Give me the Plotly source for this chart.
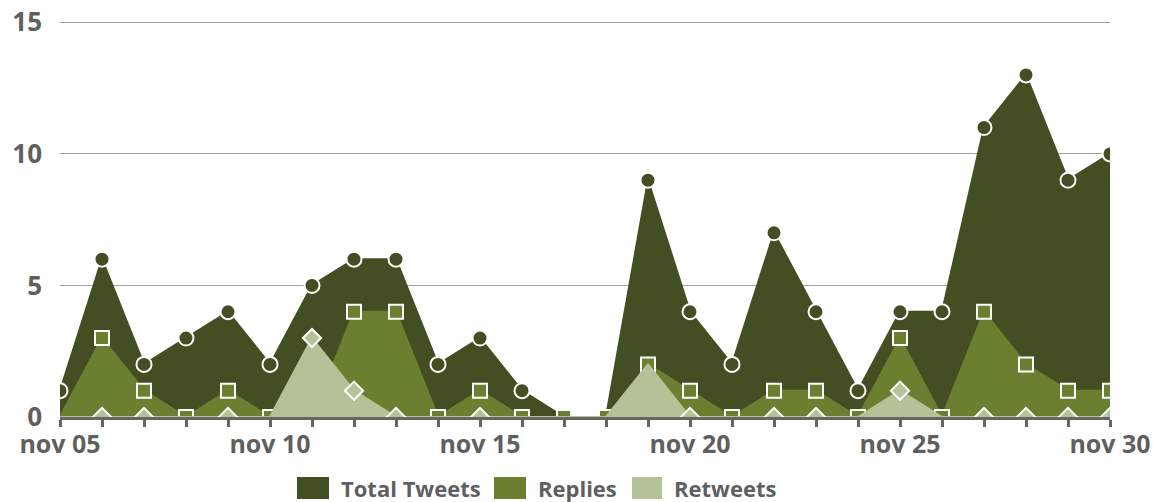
import plotly.graph_objects as go

# ---- data ----
days = ["2014-11-05", "2014-11-06", "2014-11-07", "2014-11-08", "2014-11-09",
        "2014-11-10", "2014-11-11", "2014-11-12", "2014-11-13", "2014-11-14",
        "2014-11-15", "2014-11-16", "2014-11-17", "2014-11-18", "2014-11-19",
        "2014-11-20", "2014-11-21", "2014-11-22", "2014-11-23", "2014-11-24",
        "2014-11-25", "2014-11-26", "2014-11-27", "2014-11-28", "2014-11-29",
        "2014-11-30"]
total_tweets = [1, 6, 2, 3, 4, 2, 5, 6, 6, 2, 3, 1, 0, 0, 9, 4, 2, 7, 4, 1, 4, 4, 11, 13, 9, 10]
replies = [0, 3, 1, 0, 1, 0, 0, 4, 4, 0, 1, 0, 0, 0, 2, 1, 0, 1, 1, 0, 3, 0, 4, 2, 1, 1]
retweets = [0, 0, 0, 0, 0, 0, 3, 1, 0, 0, 0, 0, 0, 0, 2, 0, 0, 0, 0, 0, 1, 0, 0, 0, 0, 0]
series_names = ["Total Tweets", "Replies", "Retweets"]
x_tick_labels = ["nov 05", "", "", "", "", "nov 10", "", "", "", "", "nov 15", "", "", "", "",
                 "nov 20", "", "", "", "", "nov 25", "", "", "", "", "nov 30"]
y_tick_vals = [0, 5, 10, 15]

# ---- style ----
C_TOTAL = "#434f23"
C_REPL = "#6a8030"
C_RT = "#b5c197"
TXT = "#5f5f5f"
FONT = "Open Sans"

# markers hidden where covered by another series' marker in the reference
op_total = [0 if v == 0 else 1 for v in total_tweets]
op_repl = [0 if i == 0 else 1 for i in range(len(replies))]
op_rt = [0 if r == p else 1 for r, p in zip(retweets, replies)]

fig = go.Figure()
specs = [
    (total_tweets, series_names[0], C_TOTAL, "circle", 15, op_total),
    (replies, series_names[1], C_REPL, "square", 14, op_repl),
    (retweets, series_names[2], C_RT, "diamond", 14, op_rt),
]
for vals, name, col, sym, sz, op in specs:
    fig.add_trace(go.Scatter(
        x=days, y=vals, name=name, mode="lines+markers",
        fill="tozeroy", fillcolor=col,
        line=dict(color=col, width=2),
        marker=dict(symbol=sym, size=sz, color=col, opacity=op,
                    line=dict(color="white", width=2)),
        showlegend=False, cliponaxis=True,
    ))

fig.update_layout(
    width=1153, height=502,
    margin=dict(l=60, r=43, t=21, b=85, autoexpand=False),
    plot_bgcolor="white", paper_bgcolor="white",
    font=dict(family=FONT, color=TXT),
    showlegend=False,
)
fig.update_xaxes(
    type="date", range=[days[0], days[-1]], automargin=False,
    tickmode="array", tickvals=days, ticktext=x_tick_labels,
    ticks="outside", ticklen=7, tickwidth=3, tickcolor="#666666",
    showline=True, linewidth=3, linecolor="#666666",
    showgrid=False, zeroline=False, ticklabelstandoff=-4,
    tickfont=dict(family=FONT, size=25, color=TXT, weight="bold"),
)
fig.update_yaxes(
    range=[0, 15.05], tickmode="array", tickvals=y_tick_vals, automargin=False,
    showgrid=True, gridcolor="#a0a0a0", gridwidth=1,
    zeroline=False, showline=False, ticks="",
    ticklabelstandoff=17,
    tickfont=dict(family=FONT, size=26, color=TXT, weight="bold"),
)

# ---- legend (drawn manually, horizontal, below the plot) ----
leg_colors = [C_TOTAL, C_REPL, C_RT]
leg_x = [297, 494, 632]
leg_w = [32, 32, 30]
plot_l, plot_w, plot_b, plot_h = 60, 1050, 417, 396
for name, col, lx, lw in zip(series_names, leg_colors, leg_x, leg_w):
    x0 = (lx - plot_l) / plot_w
    x1 = (lx + lw - plot_l) / plot_w
    y0 = (plot_b - 499) / plot_h
    y1 = (plot_b - 477) / plot_h
    fig.add_shape(type="rect", xref="paper", yref="paper",
                  x0=x0, x1=x1, y0=y0, y1=y1,
                  fillcolor=col, line=dict(width=0))
    fig.add_annotation(xref="paper", yref="paper",
                       x=(lx + lw + 10 - plot_l) / plot_w, y=(y0 + y1) / 2,
                       xanchor="left", yanchor="middle", showarrow=False,
                       text=name,
                       font=dict(family=FONT, size=22, color=TXT, weight="bold"))

fig.write_html("out.html",
               config={"displayModeBar": False},
               post_script="document.body.style.margin='0';document.body.style.overflow='hidden';")
